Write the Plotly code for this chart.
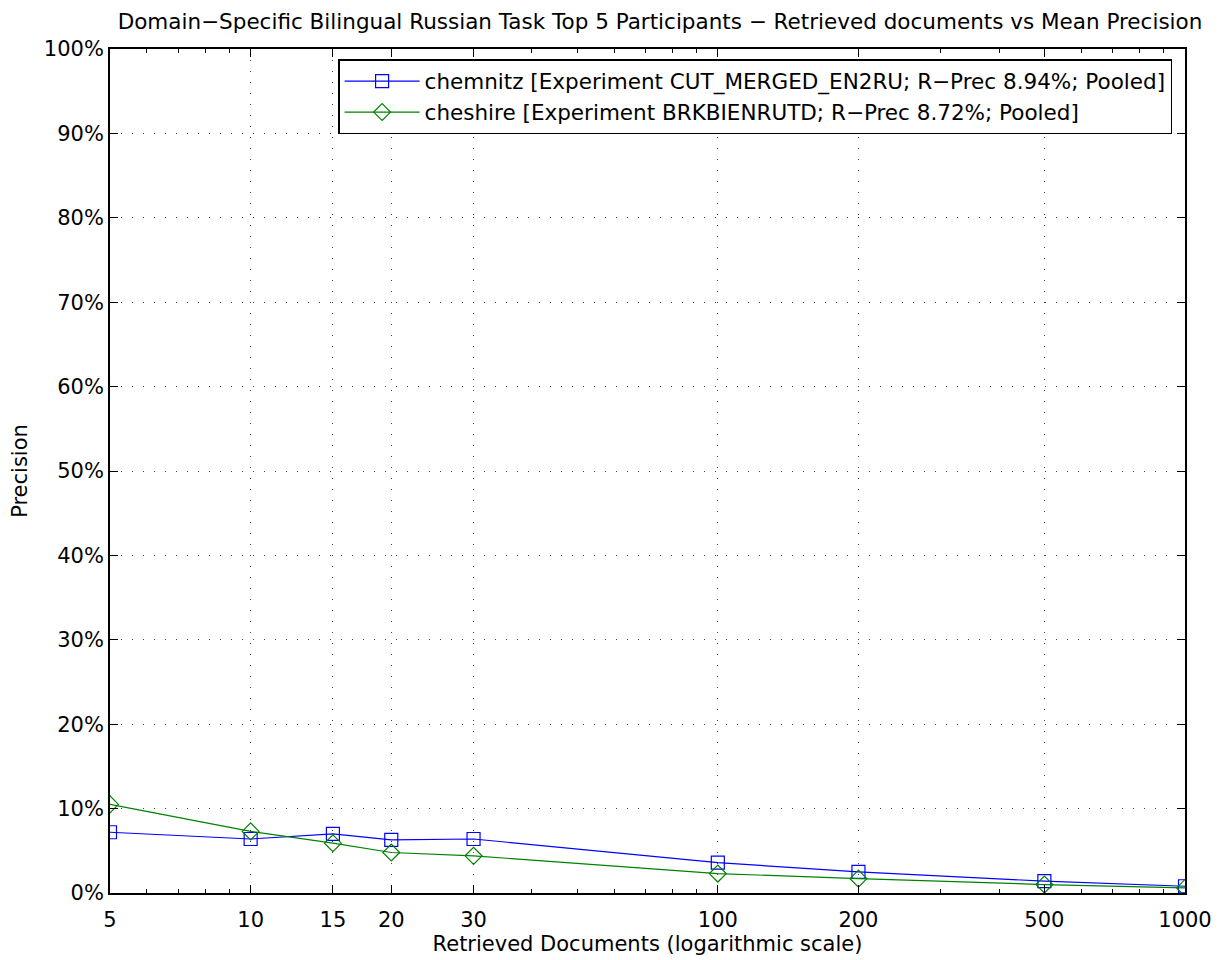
import plotly.graph_objects as go

docs = [5, 10, 15, 20, 30, 100, 200, 500, 1000]
tick_labels = ["5", "10", "15", "20", "30", "100", "200", "500", "1000"]
chemnitz = [7.2, 6.4, 7.0, 6.3, 6.4, 3.6, 2.5, 1.4, 0.8]
cheshire = [10.5, 7.3, 5.9, 4.8, 4.4, 2.3, 1.7, 1.0, 0.6]
names = ["chemnitz [Experiment CUT_MERGED_EN2RU; R\u2212Prec 8.94%; Pooled]",
         "cheshire [Experiment BRKBIENRUTD; R\u2212Prec 8.72%; Pooled]"]
y_ticks = list(range(0, 101, 10))
minor_x = [6, 7, 8, 9, 40, 50, 60, 70, 80, 90, 300, 400, 600, 700, 800, 900]

font = "DejaVu Sans, Liberation Sans, Arial, sans-serif"
GRID = "#444444"

fig = go.Figure()
fig.add_trace(go.Scatter(x=docs, y=chemnitz, mode="lines+markers", name=names[0],
                         line=dict(color="#0000ff", width=1.2),
                         marker=dict(symbol="square-open", size=13, color="#0000ff", line=dict(width=1.2))))
fig.add_trace(go.Scatter(x=docs, y=cheshire, mode="lines+markers", name=names[1],
                         line=dict(color="#008000", width=1.2),
                         marker=dict(symbol="diamond-open", size=13, color="#008000", line=dict(width=1.2))))

W, H = 1211, 952
fig.update_layout(
    width=W, height=H,
    paper_bgcolor="white", plot_bgcolor="white",
    margin=dict(l=102, r=34, t=41, b=67),
    font=dict(family=font, size=21, color="black"),
    title=dict(text="Domain\u2212Specific Bilingual Russian Task Top 5 Participants \u2212 Retrieved documents vs Mean Precision",
               x=(660 - 8) / W, xanchor="center", y=1 - 13 / H, yanchor="middle",
               font=dict(size=21.5, family=font)),
    showlegend=True,
    legend=dict(x=0.988, xanchor="right", y=0.988, yanchor="top",
                bordercolor="black", borderwidth=1.5, bgcolor="white",
                font=dict(size=21.5, family=font), tracegroupgap=0, itemwidth=75),
    xaxis=dict(type="log", range=[0.69897, 3.0], automargin=False,
               tickvals=docs, ticktext=tick_labels,
               showgrid=True, gridcolor=GRID, griddash="1px,10px", gridwidth=1,
               showline=True, linecolor="black", linewidth=1.8, mirror="ticks",
               ticks="inside", ticklen=8, tickcolor="black", ticklabelstandoff=7,
               minor=dict(ticks="inside", ticklen=4, tickcolor="black", showgrid=False,
                          tickvals=minor_x),
               title=dict(text="Retrieved Documents (logarithmic scale)", standoff=0, font=dict(size=21)),
               zeroline=False, tickfont=dict(size=21)),
    yaxis=dict(range=[0, 100], tickvals=y_ticks, ticktext=[f"{v}%" for v in y_ticks], automargin=False,
               showgrid=True, gridcolor=GRID, griddash="1px,10px", gridwidth=1,
               showline=True, linecolor="black", linewidth=1.8, mirror="ticks",
               ticks="inside", ticklen=8, tickcolor="black",
               title=dict(text="Precision", standoff=16, font=dict(size=21)),
               zeroline=False, tickfont=dict(size=21)),
)

fig.write_html("out.html")
